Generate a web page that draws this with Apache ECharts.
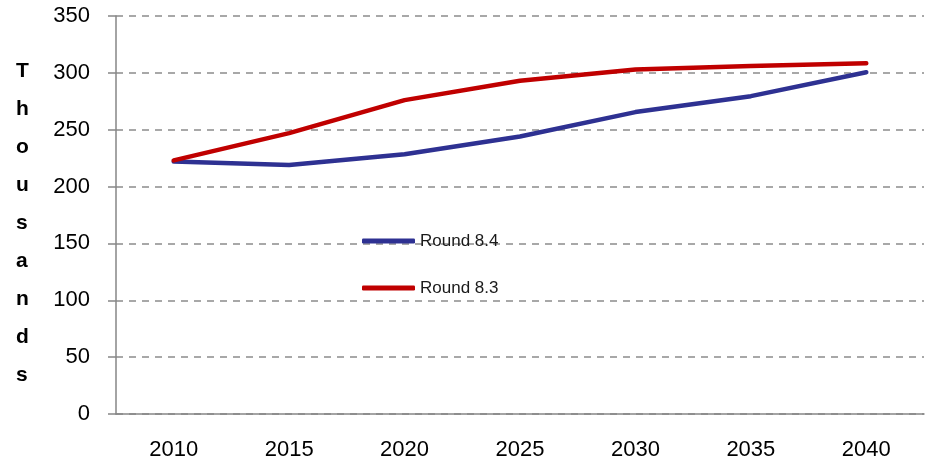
<!DOCTYPE html>
<html>
<head>
<meta charset="utf-8">
<script src="https://cdn.jsdelivr.net/npm/echarts@6/dist/echarts.min.js"></script>
<style>
  html, body { margin: 0; padding: 0; background: #fff; }
  #chart { width: 928px; height: 463px; }
</style>
</head>
<body>
<div id="chart"></div>
<script>
const years = ['2010', '2015', '2020', '2025', '2030', '2035', '2040'];
const round84 = [222, 219, 228.5, 244, 265.5, 279.5, 300.5];
const round83 = [223, 247, 276, 293, 303, 306, 308.5];
const axisTitle = 'Thousands';

const chart = echarts.init(document.getElementById('chart'));
const font = 'Liberation Sans, Arial, sans-serif';

chart.setOption({
  animation: false,
  grid: { left: 116, right: 4, top: 16, bottom: 49 },
  legend: {
    orient: 'vertical',
    left: 362,
    top: 231,
    padding: 0,
    icon: 'roundRect',
    itemWidth: 53,
    itemHeight: 5,
    itemGap: 27,
    textStyle: { fontFamily: font, fontSize: 17, color: '#1a1a1a', lineHeight: 20 },
    data: ['Round 8.4', 'Round 8.3']
  },
  graphic: [{
    type: 'text',
    left: 16,
    top: 52,
    style: {
      text: axisTitle.split('').join('\n'),
      fontFamily: font,
      fontSize: 21,
      fontWeight: 'bold',
      lineHeight: 38,
      fill: '#000',
      align: 'center'
    }
  }],
  xAxis: {
    type: 'category',
    data: years,
    boundaryGap: true,
    axisLine: { lineStyle: { color: '#868686', width: 1.5 } },
    axisTick: { length: 7, lineStyle: { color: '#868686', width: 1.5 } },
    axisLabel: { fontFamily: font, fontSize: 22, color: '#000', margin: 25 }
  },
  yAxis: {
    type: 'value',
    min: 0,
    max: 350,
    interval: 50,
    axisLine: { show: true, lineStyle: { color: '#868686', width: 1.5 } },
    axisTick: { show: true, length: 8, lineStyle: { color: '#868686', width: 1.5 } },
    axisLabel: { fontFamily: font, fontSize: 22, color: '#000', margin: 26 },
    splitLine: { lineStyle: { color: '#8c8c8c', type: [7, 6], width: 1.5 } }
  },
  series: [
    {
      name: 'Round 8.4',
      type: 'line',
      data: round84,
      showSymbol: false,
      lineStyle: { color: '#2e3192', width: 4.5, cap: 'round', join: 'round' },
      itemStyle: { color: '#2e3192' }
    },
    {
      name: 'Round 8.3',
      type: 'line',
      data: round83,
      showSymbol: false,
      lineStyle: { color: '#c00000', width: 4.5, cap: 'round', join: 'round' },
      itemStyle: { color: '#c00000' }
    }
  ]
});
</script>
</body>
</html>
